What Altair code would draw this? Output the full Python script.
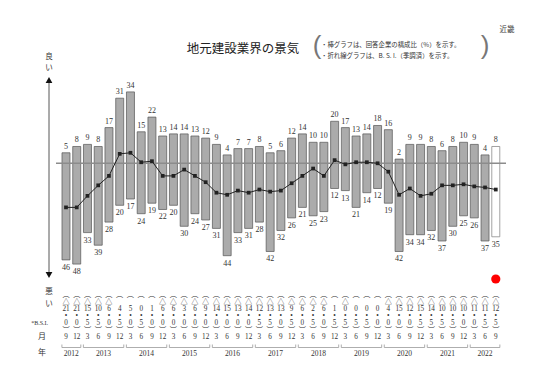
import altair as alt
import pandas as pd

# ---- data ----
months = [9, 12,
          3, 6, 9, 12, 3, 6, 9, 12, 3, 6, 9, 12, 3, 6, 9, 12, 3, 6, 9, 12,
          3, 6, 9, 12, 3, 6, 9, 12, 3, 6, 9, 12, 3, 6, 9, 12,
          3, 6, 9]
years = [2012, 2012,
         2013, 2013, 2013, 2013, 2014, 2014, 2014, 2014, 2015, 2015, 2015, 2015,
         2016, 2016, 2016, 2016, 2017, 2017, 2017, 2017, 2018, 2018, 2018, 2018,
         2019, 2019, 2019, 2019, 2020, 2020, 2020, 2020, 2021, 2021, 2021, 2021,
         2022, 2022, 2022]
good = [5, 8, 9, 8, 17, 31, 34, 15, 22, 13, 14, 14, 13, 12, 9, 4, 7, 7, 8, 5, 6,
        12, 14, 10, 10, 20, 17, 13, 14, 18, 16, 2, 9, 9, 8, 6, 8, 10, 9, 4, 8]
bad = [46, 48, 33, 39, 28, 20, 17, 24, 19, 22, 20, 30, 24, 27, 31, 44, 33, 31, 28,
       42, 32, 26, 21, 25, 23, 12, 13, 21, 14, 12, 19, 42, 34, 34, 32, 37, 30, 25,
       26, 37, 35]
bsi = [-21.0, -21.0, -15.5, -10.5, -6.0, 4.5, 5.0, 0.5, 1.0, -6.0, -6.0, -3.0, -6.0,
       -9.0, -14.0, -15.0, -13.0, -14.0, -12.5, -13.5, -13.0, -9.5, -6.0, -2.5, -6.0,
       1.5, -0.5, 0.5, 0.5, 0.0, -4.0, -15.0, -12.0, -15.5, -14.5, -10.5, -10.5,
       -10.0, -11.0, -11.5, -12.5]

title_text = "地元建設業界の景気"
note1 = "・棒グラフは、回答企業の構成比（%）を示す。"
note2 = "・折れ線グラフは、B. S. I.（季調済）を示す。"
region = "近畿"

n = len(good)
df = pd.DataFrame({
    "i": list(range(n)), "good": good, "badv": [-b for b in bad], "badlbl": bad,
    "bsi": bsi, "month": months, "year": years,
})
df["fc"] = [i == n - 1 for i in range(n)]
BLANK = "\u2800"  # visible-width blank glyph keeps the empty line
df["cell"] = [
    "\n".join(["︵", "△" if v < 0 else BLANK, str(int(abs(v))), "•",
               str(int(round(abs(v) * 10)) % 10), "︶", str(m)])
    for v, m in zip(bsi, months)
]

yr = df.groupby("year")["i"].agg(["min", "max"]).reset_index()
yr["x1"] = yr["min"] - 0.38
yr["x2"] = yr["max"] + 0.38
yr["mid"] = (yr["min"] + yr["max"]) / 2
ends = pd.concat([yr[["year", "x1"]].rename(columns={"x1": "bx"}),
                  yr[["year", "x2"]].rename(columns={"x2": "bx"})])

W, H = 534, 373
def py(v):
    return v - 8
def pxv(v):
    return v - 8

xs = alt.Scale(domain=[-4.9315, 43.836], nice=False, zero=False)
ys = alt.Scale(domain=[-103.67, 73.95], nice=False, zero=False)
X = alt.X("i:Q", scale=xs, axis=None)

base = alt.Chart(df)
ser = "Liberation Serif"
jp = "Noto Sans CJK JP"
mix = "Liberation Serif, 'Noto Sans CJK JP', 'DejaVu Sans'"

bars = base.transform_filter("!datum.fc").mark_bar(
    size=8, fill="#ababab", stroke="#555555", strokeWidth=0.7).encode(
    x=X, y=alt.Y("good:Q", scale=ys, axis=None), y2="badv:Q")
fbar = base.transform_filter("datum.fc").mark_bar(
    size=8, fill="#ffffff", stroke="#8a8a8a", strokeWidth=0.8).encode(
    x=X, y=alt.Y("good:Q", scale=ys, axis=None), y2="badv:Q")
toplbl = base.mark_text(font=ser, fontSize=8, baseline="bottom", dy=-2, color="#333").encode(
    x=X, y=alt.Y("good:Q", scale=ys, axis=None), text="good:Q")
botlbl = base.mark_text(font=ser, fontSize=8, baseline="top", dy=4, color="#333").encode(
    x=X, y=alt.Y("badv:Q", scale=ys, axis=None), text="badlbl:Q")
center = alt.Chart(pd.DataFrame({"z": [0]})).mark_rule(color="#8c8c8c", strokeWidth=1.5).encode(
    y=alt.Y("z:Q", scale=ys, axis=None), x=alt.value(pxv(56)), x2=alt.value(pxv(506)))
line = base.mark_line(color="#222222", strokeWidth=1).encode(
    x=X, y=alt.Y("bsi:Q", scale=ys, axis=None))
pts = base.mark_point(shape="square", filled=True, size=14, color="#222222", opacity=1).encode(
    x=X, y=alt.Y("bsi:Q", scale=ys, axis=None))

# arrow on the left
one = pd.DataFrame({"a": [0]})
arrow = alt.Chart(one).mark_rule(color="#444", strokeWidth=0.9).encode(
    x=alt.value(pxv(49)), y=alt.value(py(82)), y2=alt.value(py(273)))
arr_up = alt.Chart(one).mark_point(
    shape="triangle-up", filled=True, size=45, color="#111", opacity=1).encode(
    x=alt.value(pxv(49)), y=alt.value(py(80)))
arr_dn = alt.Chart(one).mark_point(
    shape="triangle-down", filled=True, size=45, color="#111", opacity=1).encode(
    x=alt.value(pxv(49)), y=alt.value(py(275)))

def label(txt, x, y, size=9, font=jp, align="center", color="#333", baseline="middle"):
    return alt.Chart(one).mark_text(
        text=txt, font=font, fontSize=size, align=align, baseline=baseline,
        color=color).encode(x=alt.value(pxv(x)), y=alt.value(py(y)))

side = [
    label("良", 49, 56.5, 7.5), label("い", 49, 68, 7.5),
    label("悪", 49, 292, 7.5), label("い", 49, 303.5, 7.5),
    label("*B.S.I.", 48, 323, 6, ser, "right"),
    label("月", 42, 337, 8), label("年", 42, 353, 8),
    label(title_text, 243, 49, 12.5, jp, "center", "#222"),
    label(note1, 321, 45, 6.4, jp, "left", "#333"),
    label(note2, 321, 55.5, 6.4, jp, "left", "#333"),
    label("(", 317, 46, 26, "Liberation Sans", "center", "#777"),
    label(")", 485, 46, 26, "Liberation Sans", "center", "#777"),
    label(region, 507, 30, 7.5, jp, "center", "#444"),
]

table = base.mark_text(font=mix, fontSize=7.2, baseline="top", lineBreak="\n",
                       lineHeight=7.1, color="#333").encode(
    x=X, y=alt.value(py(290.5)), text="cell:N")

ybr = alt.Chart(yr).mark_rule(color="#999", strokeWidth=0.8).encode(
    x=alt.X("x1:Q", scale=xs, axis=None), x2="x2:Q", y=alt.value(py(347.5)))
ytk = alt.Chart(ends).mark_rule(color="#999", strokeWidth=0.8).encode(
    x=alt.X("bx:Q", scale=xs, axis=None), y=alt.value(py(344.5)), y2=alt.value(py(347.5)))
ylb = alt.Chart(yr).mark_text(font=ser, fontSize=7.5, baseline="middle", color="#333").encode(
    x=alt.X("mid:Q", scale=xs, axis=None), y=alt.value(py(354)), text="year:N")

red = alt.Chart(pd.DataFrame({"i": [n - 1]})).mark_circle(size=85, color="#ff0000", opacity=1).encode(
    x=X, y=alt.value(py(279)))

chart = alt.layer(
    bars, fbar, center, toplbl, botlbl, line, pts, arrow, arr_up, arr_dn,
    *side, table, ybr, ytk, ylb, red
).properties(
    width=W, height=H, padding=0, autosize=alt.AutoSizeParams(type="none")
).configure_view(strokeWidth=0)

chart.save("out.html", embed_options={"renderer": "svg", "actions": False})
